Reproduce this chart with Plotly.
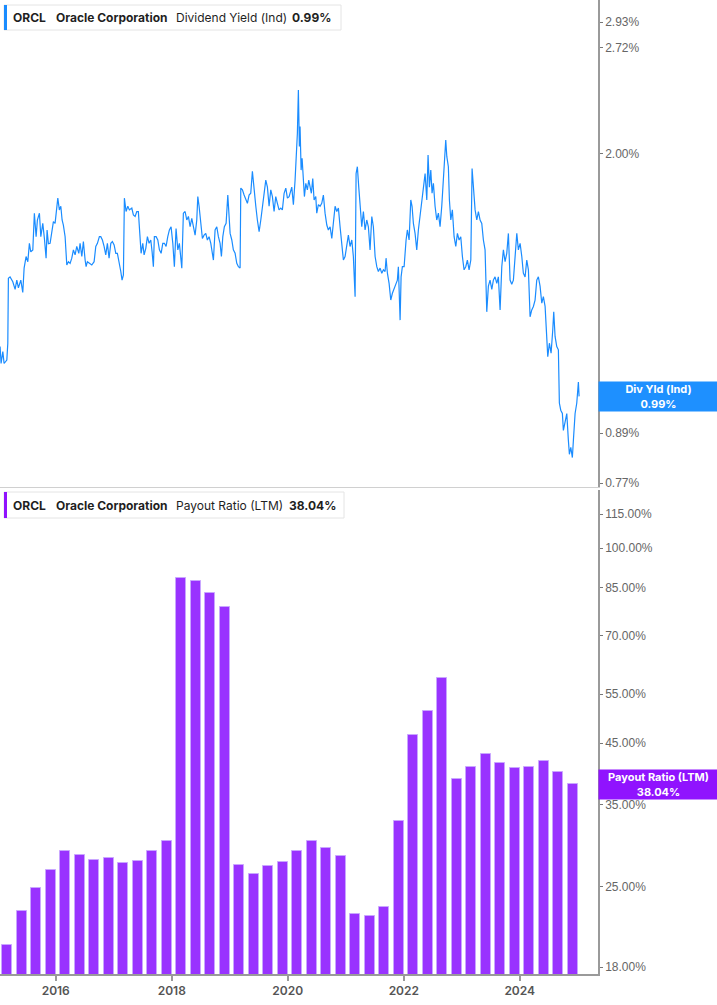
import math
import pandas as pd
import plotly.graph_objects as go

# ---------------- data ----------------
# Dividend yield (indicated), % ; time given as decimal years
yield_years = [
    2015.040, 2015.057, 2015.087, 2015.109, 2015.156, 2015.173, 2015.183, 2015.212, 2015.259, 2015.299,
    2015.328, 2015.356, 2015.397, 2015.431, 2015.454, 2015.488, 2015.518, 2015.545, 2015.569, 2015.604,
    2015.631, 2015.661, 2015.683, 2015.718, 2015.742, 2015.776, 2015.804, 2015.833, 2015.850, 2015.873,
    2015.902, 2015.931, 2015.959, 2015.988,
    2016.018, 2016.035, 2016.062, 2016.087, 2016.109, 2016.131, 2016.161, 2016.190, 2016.218, 2016.247,
    2016.276, 2016.304, 2016.333, 2016.362, 2016.397, 2016.419, 2016.449, 2016.476, 2016.506, 2016.523,
    2016.545, 2016.580, 2016.621, 2016.661, 2016.690, 2016.718, 2016.752, 2016.776, 2016.804, 2016.833,
    2016.862, 2016.890, 2016.919, 2016.949, 2016.976,
    2017.006, 2017.035, 2017.062, 2017.092, 2017.121, 2017.143, 2017.166, 2017.183, 2017.212, 2017.242,
    2017.269, 2017.311, 2017.338, 2017.368, 2017.397, 2017.424, 2017.454, 2017.471, 2017.500, 2017.523,
    2017.552, 2017.580, 2017.609, 2017.638, 2017.661, 2017.683, 2017.700, 2017.730, 2017.759, 2017.787,
    2017.816, 2017.845, 2017.873, 2017.902, 2017.931, 2017.959, 2017.988,
    2018.018, 2018.045, 2018.074, 2018.104, 2018.131, 2018.173, 2018.200, 2018.230, 2018.259, 2018.287,
    2018.316, 2018.345, 2018.373, 2018.402, 2018.431, 2018.449, 2018.471, 2018.500, 2018.528, 2018.557,
    2018.586, 2018.614, 2018.643, 2018.673, 2018.700, 2018.718, 2018.747, 2018.776, 2018.804, 2018.833,
    2018.856, 2018.880, 2018.907, 2018.937, 2018.966, 2018.988,
    2019.006, 2019.035, 2019.062, 2019.092, 2019.121, 2019.149, 2019.178, 2019.190, 2019.218, 2019.247,
    2019.276, 2019.304, 2019.333, 2019.362, 2019.390, 2019.419, 2019.449, 2019.476, 2019.506, 2019.535,
    2019.562, 2019.592, 2019.621, 2019.649, 2019.678, 2019.707, 2019.735, 2019.764, 2019.793, 2019.821,
    2019.850, 2019.880, 2019.907, 2019.937, 2019.966, 2019.994,
    2020.023, 2020.069, 2020.097, 2020.126, 2020.143, 2020.166, 2020.183, 2020.200, 2020.212, 2020.230,
    2020.247, 2020.269, 2020.287, 2020.311, 2020.338, 2020.362, 2020.385, 2020.407, 2020.431, 2020.454,
    2020.483, 2020.500, 2020.528, 2020.557, 2020.586, 2020.614, 2020.643, 2020.673, 2020.700, 2020.730,
    2020.759, 2020.787, 2020.816, 2020.845, 2020.873, 2020.902, 2020.931, 2020.959, 2020.988,
    2021.018, 2021.045, 2021.074, 2021.104, 2021.131, 2021.161, 2021.178, 2021.200, 2021.224, 2021.247,
    2021.276, 2021.304, 2021.333, 2021.362, 2021.390, 2021.419, 2021.449, 2021.476, 2021.506, 2021.535,
    2021.562, 2021.592, 2021.621, 2021.649, 2021.678, 2021.695, 2021.718, 2021.747, 2021.776, 2021.804,
    2021.833, 2021.862, 2021.890, 2021.907, 2021.937, 2021.954, 2021.976,
    2022.006, 2022.040, 2022.062, 2022.092, 2022.121, 2022.143, 2022.166, 2022.195, 2022.224, 2022.252,
    2022.281, 2022.311, 2022.338, 2022.368, 2022.397, 2022.419, 2022.442, 2022.466, 2022.488, 2022.511,
    2022.540, 2022.569, 2022.597, 2022.626, 2022.655, 2022.683, 2022.700, 2022.724, 2022.742, 2022.769,
    2022.787, 2022.811, 2022.838, 2022.868, 2022.897, 2022.925, 2022.954, 2022.983,
    2023.011, 2023.040, 2023.069, 2023.097, 2023.126, 2023.156, 2023.178, 2023.200, 2023.230, 2023.259,
    2023.287, 2023.316, 2023.345, 2023.373, 2023.402, 2023.431, 2023.459, 2023.488, 2023.518, 2023.545,
    2023.574, 2023.604, 2023.631, 2023.661, 2023.690, 2023.718, 2023.747, 2023.776, 2023.804, 2023.833,
    2023.862, 2023.890, 2023.919, 2023.949, 2023.976,
    2024.006, 2024.035, 2024.062, 2024.092, 2024.121, 2024.149, 2024.178, 2024.207, 2024.235, 2024.264,
    2024.293, 2024.321, 2024.350, 2024.380, 2024.407, 2024.437, 2024.466, 2024.483, 2024.511, 2024.540,
    2024.569, 2024.586, 2024.609, 2024.638, 2024.666, 2024.683, 2024.707, 2024.735, 2024.752, 2024.781,
    2024.811, 2024.838, 2024.856, 2024.880, 2024.907, 2024.925, 2024.954, 2024.983,
    2025.011, 2025.023,
]
yield_values = [
    1.144, 1.089, 1.127, 1.089, 1.100, 1.155, 1.394, 1.400, 1.380, 1.350,
    1.387, 1.356, 1.387, 1.338, 1.436, 1.485, 1.463, 1.543, 1.505, 1.514,
    1.684, 1.573, 1.651, 1.684, 1.573, 1.635, 1.565, 1.478, 1.604, 1.541,
    1.543, 1.588, 1.643, 1.635,
    1.718, 1.759, 1.700, 1.718, 1.651, 1.627, 1.573, 1.449, 1.463, 1.456,
    1.478, 1.514, 1.492, 1.529, 1.499, 1.543, 1.485, 1.551, 1.470, 1.442,
    1.463, 1.456, 1.449, 1.463, 1.529, 1.543, 1.573, 1.573, 1.558, 1.529,
    1.492, 1.543, 1.478, 1.543, 1.551,
    1.536, 1.499, 1.499, 1.463, 1.422, 1.387, 1.408, 1.759, 1.692, 1.718,
    1.700, 1.709, 1.676, 1.668, 1.692, 1.692, 1.558, 1.499, 1.543, 1.492,
    1.521, 1.573, 1.543, 1.558, 1.505, 1.442, 1.573, 1.573, 1.558, 1.514,
    1.499, 1.543, 1.543, 1.529, 1.573, 1.604, 1.619,
    1.543, 1.442, 1.611, 1.514, 1.543, 1.436, 1.684, 1.692, 1.651, 1.668,
    1.619, 1.659, 1.619, 1.580, 1.651, 1.767, 1.718, 1.619, 1.565, 1.580,
    1.588, 1.558, 1.573, 1.543, 1.499, 1.470, 1.604, 1.619, 1.573, 1.543,
    1.485, 1.573, 1.619, 1.635, 1.775, 1.684,
    1.588, 1.558, 1.514, 1.499, 1.456, 1.442, 1.436, 1.811, 1.802, 1.775,
    1.750, 1.733, 1.775, 1.784, 1.901, 1.784, 1.718, 1.651, 1.596, 1.651,
    1.718, 1.784, 1.853, 1.816, 1.718, 1.802, 1.767, 1.692, 1.767, 1.733,
    1.700, 1.709, 1.700, 1.784, 1.811, 1.759,
    1.767, 1.816, 1.726, 1.853, 1.945, 2.124, 2.407, 2.043, 2.165, 1.908,
    1.975, 1.836, 1.767, 1.836, 1.802, 1.853, 1.816, 1.784, 1.862, 1.750,
    1.767, 1.684, 1.726, 1.718, 1.733, 1.775, 1.684, 1.627, 1.604, 1.619,
    1.565, 1.651, 1.718, 1.692, 1.709, 1.619, 1.543, 1.470, 1.485,
    1.529, 1.580, 1.529, 1.558, 1.485, 1.322, 1.889, 1.927, 1.816, 1.718,
    1.619, 1.692, 1.604, 1.651, 1.619, 1.514, 1.668, 1.619, 1.485, 1.442,
    1.422, 1.436, 1.415, 1.429, 1.422, 1.478, 1.415, 1.374, 1.309, 1.335,
    1.356, 1.370, 1.387, 1.442, 1.235, 1.400, 1.442,
    1.442, 1.558, 1.604, 1.558, 1.750, 1.718, 1.635, 1.588, 1.514, 1.604,
    1.668, 1.733, 1.784, 1.889, 1.750, 1.994, 1.816, 1.908, 1.784, 1.836,
    1.718, 1.651, 1.684, 1.619, 1.718, 1.853, 2.004, 2.082, 1.985, 1.927,
    1.750, 1.651, 1.700, 1.573, 1.529, 1.588, 1.558, 1.573,
    1.485, 1.429, 1.442, 1.470, 1.429, 1.470, 1.917, 1.836, 1.700, 1.651,
    1.692, 1.651, 1.635, 1.558, 1.514, 1.265, 1.363, 1.387, 1.350, 1.387,
    1.400, 1.374, 1.400, 1.272, 1.442, 1.514, 1.463, 1.499, 1.588, 1.387,
    1.370, 1.387, 1.499, 1.588, 1.514,
    1.543, 1.485, 1.415, 1.400, 1.470, 1.429, 1.247, 1.272, 1.285, 1.309,
    1.387, 1.400, 1.363, 1.297, 1.322, 1.285, 1.144, 1.111, 1.155, 1.122,
    1.200, 1.265, 1.178, 1.144, 1.133, 0.971, 0.951, 0.942, 0.897, 0.915,
    0.942, 0.872, 0.837, 0.854, 0.829, 0.872, 0.942, 0.971,
    1.032, 0.990,
]

# Payout ratio (LTM), % ; fiscal quarter ends
payout_dates = [
    "2015-02-28", "2015-05-31", "2015-08-31", "2015-11-30",
    "2016-02-29", "2016-05-31", "2016-08-31", "2016-11-30",
    "2017-02-28", "2017-05-31", "2017-08-31", "2017-11-30",
    "2018-02-28", "2018-05-31", "2018-08-31", "2018-11-30",
    "2019-02-28", "2019-05-31", "2019-08-31", "2019-11-30",
    "2020-02-29", "2020-05-31", "2020-08-31", "2020-11-30",
    "2021-02-28", "2021-05-31", "2021-08-31", "2021-11-30",
    "2022-02-28", "2022-05-31", "2022-08-31", "2022-11-30",
    "2023-02-28", "2023-05-31", "2023-08-31", "2023-11-30",
    "2024-02-29", "2024-05-31", "2024-08-31", "2024-11-30",
]
payout_values = [
    19.7, 22.6, 24.9, 26.8,
    29.0, 28.5, 27.9, 28.1,
    27.6, 27.8, 29.0, 30.2,
    88.6, 87.3, 83.1, 78.6,
    27.3, 26.4, 27.2, 27.7,
    29.0, 30.2, 29.3, 28.4,
    22.4, 22.2, 23.0, 32.7,
    46.5, 51.3, 58.9, 38.9,
    40.9, 43.0, 41.5, 40.7,
    40.9, 41.8, 40.0, 38.04,
]

yield_ticks = [0.77, 0.89, 1.00, 2.00, 2.72, 2.93]
payout_ticks = [18, 25, 35, 45, 55, 70, 85, 100, 115]
year_ticks = ["2016-01-01", "2018-01-01", "2020-01-01", "2022-01-01", "2024-01-01"]
year_labels = ["2016", "2018", "2020", "2022", "2024"]

ticker = "ORCL"
company = "Oracle Corporation"
yield_name = "Dividend Yield (Ind)"
payout_name = "Payout Ratio (LTM)"
yield_short = "Div Yld (Ind)"
yield_last = "0.99%"
payout_last = "38.04%"

# ---------------- figure ----------------
BLUE = "#1a8cff"
PURPLE = "#9933ff"
BOX_PURPLE = "#9013fe"
AX = "#9a9a9a"
TICKFONT = dict(family="Liberation Sans, Arial", size=12, color="#666666")

yield_dates = [pd.Timestamp("2015-01-01") + pd.Timedelta(days=(t - 2015) * 365.25) for t in yield_years]

W, H = 717, 1005
ML, MR, MT, MB = 0, 119, 0, 31
PW, PH = W - ML - MR, H - MT - MB  # 598 x 974

def py(px):  # pixel y (from top) -> paper y
    return (PH - px) / PH

def pxx(px):
    return px / PW

fig = go.Figure()
fig.add_trace(go.Scatter(x=yield_dates, y=yield_values, mode="lines",
                         line=dict(color=BLUE, width=1.2), xaxis="x", yaxis="y",
                         hoverinfo="skip", showlegend=False))
bar_w = 63 * 86400000
fig.add_trace(go.Bar(x=payout_dates, y=payout_values, width=bar_w,
                     marker=dict(color=PURPLE, line=dict(color="#c9a6ff", width=1)),
                     xaxis="x2", yaxis="y2", showlegend=False, hoverinfo="skip"))

xrange = ["2015-01-15", "2025-05-08"]
fig.update_layout(
    width=W, height=H,
    margin=dict(l=ML, r=MR, t=MT, b=MB),
    paper_bgcolor="white", plot_bgcolor="white",
    showlegend=False, bargap=0,
    xaxis=dict(domain=[0, 1], anchor="y", range=xrange, type="date",
               showticklabels=False, showgrid=False, zeroline=False,
               showline=True, linecolor="#d0d0d0", linewidth=1, ticks=""),
    xaxis2=dict(domain=[0, 1], anchor="y2", range=xrange, type="date",
                tickvals=year_ticks, ticktext=year_labels,
                tickfont=dict(family="Inter, Liberation Sans", size=12, color="#555555", weight=600),
                showgrid=False, zeroline=False, showline=True, linecolor=AX, linewidth=1.5,
                ticks="outside", ticklen=5, tickcolor=AX, tickwidth=1.5),
    yaxis=dict(domain=[py(487), 1], anchor="x", type="log", side="right",
               range=[-0.1185, 0.4948],
               tickvals=yield_ticks, ticktext=[f"{v:.2f}%" for v in yield_ticks],
               tickfont=TICKFONT, showgrid=False, zeroline=False,
               showline=True, linecolor=AX, linewidth=1.5,
               ticks="outside", ticklen=3, tickcolor="#777777"),
    yaxis2=dict(domain=[0, py(490)], anchor="x2", type="log", side="right",
                range=[1.2429, 2.1035],
                tickvals=payout_ticks, ticktext=[f"{v:.2f}%" for v in payout_ticks],
                tickfont=TICKFONT, showgrid=False, zeroline=False,
                showline=True, linecolor=AX, linewidth=1.5,
                ticks="outside", ticklen=3, tickcolor="#777777"),
)

shapes = []
annotations = []

def legend_box(y0, y1, x1, color, texts):
    shapes.append(dict(type="rect", xref="paper", yref="paper",
                       x0=pxx(4), x1=pxx(x1), y0=py(y1), y1=py(y0),
                       line=dict(color="#e4e4e4", width=1), fillcolor="white", layer="above"))
    shapes.append(dict(type="rect", xref="paper", yref="paper",
                       x0=pxx(4), x1=pxx(7), y0=py(y1), y1=py(y0),
                       line=dict(width=0), fillcolor=color, layer="above"))
    yc = py((y0 + y1) / 2)
    for xpos, txt in texts:
        annotations.append(dict(xref="paper", yref="paper", x=pxx(xpos), y=yc,
                                xanchor="left", yanchor="middle", showarrow=False, text=txt,
                                font=dict(family="Inter, Liberation Sans", size=12, color="#1f1f1f")))

legend_box(5, 30, 341, BLUE, [
    (11, f"<b>{ticker}</b>"), (54, f"<b>{company}</b>"), (174, yield_name), (290, f"<b>{yield_last}</b>")])
legend_box(492, 518, 344, BOX_PURPLE, [
    (11, f"<b>{ticker}</b>"), (54, f"<b>{company}</b>"), (174, payout_name), (287, f"<b>{payout_last}</b>")])

# last value labels on the right axis
annotations.append(dict(xref="paper", yref="y", x=1, y=math.log10(yield_values[-1]),
                        xanchor="left", yanchor="middle", showarrow=False,
                        text=f"<b>{yield_short}<br>{yield_last}</b>", align="center",
                        width=115, height=25, borderpad=2, bgcolor="#1e90ff",
                        font=dict(family="Inter, Liberation Sans", size=11, color="white")))
annotations.append(dict(xref="paper", yref="y2", x=1, y=math.log10(payout_values[-1]),
                        xanchor="left", yanchor="middle", showarrow=False,
                        text=f"<b>{payout_name}<br>{payout_last}</b>", align="center",
                        width=115, height=25, borderpad=2, bgcolor=BOX_PURPLE,
                        font=dict(family="Inter, Liberation Sans", size=11, color="white")))

fig.update_layout(shapes=shapes, annotations=annotations)
fig.write_html("out.html", config={"displayModeBar": False},
               post_script="document.body.style.margin='0px';")
